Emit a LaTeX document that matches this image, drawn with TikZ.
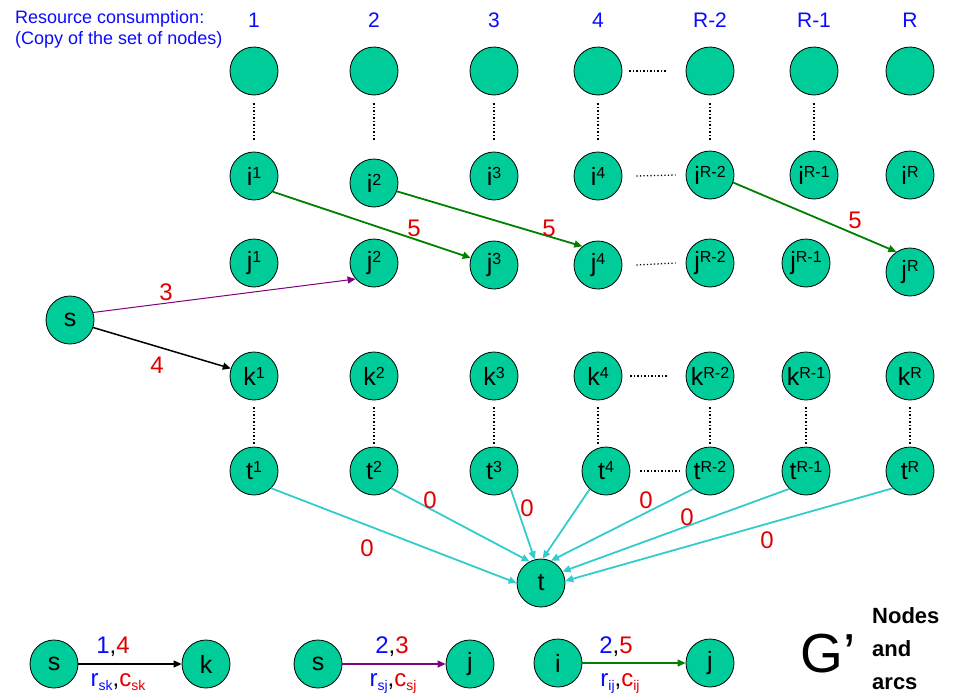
\documentclass[tikz,border=0pt]{standalone}
\usepackage{fontspec}
\setmainfont{Liberation Sans}
\usetikzlibrary{arrows.meta}
\definecolor{nodegreen}{RGB}{0,204,153}
\definecolor{arcgreen}{RGB}{0,128,0}
\definecolor{arcpurple}{RGB}{128,0,128}
\definecolor{arccyan}{RGB}{51,204,204}
\definecolor{labred}{RGB}{225,0,0}
\definecolor{labblue}{RGB}{10,10,255}
\newcommand\sups[1]{\raisebox{7pt}{\fontsize{16}{16}\selectfont #1}}
\newcommand\subs[1]{\raisebox{-4pt}{\fontsize{14}{14}\selectfont #1}}
\begin{document}
\begin{tikzpicture}[x=1pt,y=-1pt,
  nd/.style={circle,draw=black,line width=0.8pt,fill=nodegreen,minimum size=48pt,inner sep=0pt,font=\fontsize{25}{28}\selectfont},
  tipk/.style={-{Triangle[length=8pt,width=7pt]}},
  garc/.style={tipk,draw=arcgreen,line width=1.8pt},
  parc/.style={-{Triangle[length=8pt,width=7pt]},draw=arcpurple,line width=1pt},
  karc/.style={tipk,draw=black,line width=1.5pt},
  carc/.style={tipk,draw=arccyan,line width=1.8pt},
  dotline/.style={draw=black,line width=1.3pt,dash pattern=on 1.3pt off 2.2pt},
  lab/.style={text=labred,font=\fontsize{24}{24}\selectfont,inner sep=0pt},
  head/.style={text=labblue,font=\fontsize{21}{21}\selectfont,inner sep=0pt}]
\useasboundingbox (0,0) rectangle (965,696);

% headers
\node[head,anchor=north west,align=left,font=\fontsize{18}{21}\selectfont] (title) at (15,10) {Resource consumption:\\(Copy of the set of nodes)};
\node[head] (h1) at (254,20) {1};
\node[head] (h2) at (374,20) {2};
\node[head] (h3) at (494,20) {3};
\node[head] (h4) at (598,20) {4};
\node[head] (h5) at (710,20) {R-2};
\node[head] (h6) at (814,20) {R-1};
\node[head] (h7) at (910,20) {R};

% top row
\node[nd] (a1) at (254,71) {};
\node[nd] (a2) at (374,71) {};
\node[nd] (a3) at (494,71) {};
\node[nd] (a4) at (598,71) {};
\node[nd] (a5) at (710,71) {};
\node[nd] (a6) at (814,71) {};
\node[nd] (a7) at (910,71) {};

% i row
\node[nd] (i1) at (254,176) {i\sups{1}};
\node[nd] (i2) at (374,183) {i\sups{2}};
\node[nd] (i3) at (494,176) {i\sups{3}};
\node[nd] (i4) at (598,176) {i\sups{4}};
\node[nd] (i5) at (710,175) {i\sups{R-2}};
\node[nd] (i6) at (814,175) {i\sups{R-1}};
\node[nd] (i7) at (910,175) {i\sups{R}};

% j row
\node[nd] (j1) at (254,263) {j\sups{1}};
\node[nd] (j2) at (374,263) {j\sups{2}};
\node[nd] (j3) at (494,265) {j\sups{3}};
\node[nd] (j4) at (598,265) {j\sups{4}};
\node[nd] (j5) at (710,263) {j\sups{R-2}};
\node[nd] (j6) at (806,263) {j\sups{R-1}};
\node[nd] (j7) at (910,272) {j\sups{R}};

% s
\node[nd] (s) at (70,320) {s};

% k row
\node[nd] (k1) at (254,376) {k\sups{1}};
\node[nd] (k2) at (374,376) {k\sups{2}};
\node[nd] (k3) at (494,376) {k\sups{3}};
\node[nd] (k4) at (598,376) {k\sups{4}};
\node[nd] (k5) at (710,376) {k\sups{R-2}};
\node[nd] (k6) at (806,376) {k\sups{R-1}};
\node[nd] (k7) at (910,376) {k\sups{R}};

% t row
\node[nd] (t1) at (254,471) {t\sups{1}};
\node[nd] (t2) at (374,471) {t\sups{2}};
\node[nd] (t3) at (494,471) {t\sups{3}};
\node[nd] (t4) at (606,471) {t\sups{4}};
\node[nd] (t5) at (710,471) {t\sups{R-2}};
\node[nd] (t6) at (806,471) {t\sups{R-1}};
\node[nd] (t7) at (910,471) {t\sups{R}};

\node[nd] (t) at (541,583) {t};

% vertical dotted lines
\foreach \c in {1,...,6} {
  \draw[dotline] ([yshift=-8pt]a\c.south) -- ([yshift=-45pt]a\c.south);
}
\foreach \c in {1,...,7} {
  \draw[dotline] ([yshift=-7pt]k\c.south) -- ([yshift=2pt]k\c.south |- t\c.north);
}
% horizontal dotted lines
\draw[dotline] ([xshift=7pt]a4.east) -- ([xshift=-19pt]a5.west);
\draw[dotline] ([xshift=14pt]i4.east) -- ([xshift=-10pt]i5.west);
\draw[dotline] ([xshift=14pt]j4.east) -- ([xshift=-10pt]j5.west);
\draw[dotline] ([xshift=8pt]k4.east) -- ([xshift=-18pt]k5.west);
\draw[dotline] ([xshift=10pt]t4.east) -- ([xshift=-4pt]t5.west);

% arcs
\draw[garc] (i1.-40) -- (j3.163);
\draw[garc] (i2.-20) -- (j4.130);
\draw[garc] (i5.-18) -- (j7.124);
\draw[parc] (s.18) -- (j2.221);
\draw[karc] (s.-18) -- (k1.162);
\draw[carc] (t1.-45) -- (t.180);
\draw[carc] (t2.-45) -- (t.118);
\draw[carc] (t3.-47) -- (t.105);
\draw[carc] (t4.228) -- (t.86);
\draw[carc] (t5.227) -- (t.66);
\draw[carc] (t6.227) -- (t.28);
\draw[carc] (t7.225) -- (t.5);

% arc labels
\node[lab] (l1) at (414,228) {5};
\node[lab] (l2) at (549,228) {5};
\node[lab] (l3) at (855,220) {5};
\node[lab] (l4) at (166,292) {3};
\node[lab] (l5) at (157,365) {4};
\node[lab] (l6) at (367,548) {0};
\node[lab] (l7) at (430,500) {0};
\node[lab] (l8) at (527,508) {0};
\node[lab] (l9) at (646,500) {0};
\node[lab] (l10) at (687,517) {0};
\node[lab] (l11) at (767,540) {0};

% legend
\node[nd] (ls) at (54,664) {s};
\node[nd] (lk) at (206,664) {k};
\node[nd] (ls2) at (318,664) {s};
\node[nd] (lj) at (470,664) {j};
\node[nd] (li) at (558,663) {i};
\node[nd] (lj2) at (710,663) {j};
\draw[karc,line width=1.2pt] (ls) -- (lk);
\draw[parc,line width=1.2pt] (ls2) -- (lj);
\draw[garc,line width=1.2pt] (li) -- (lj2);
\node[inner sep=0pt,font=\fontsize{24}{24}\selectfont,anchor=base] (v1) at (113,653) {\textcolor{labblue}{1},\textcolor{labred}{4}};
\node[inner sep=0pt,font=\fontsize{24}{24}\selectfont,anchor=base] (v2) at (392,653) {\textcolor{labblue}{2},\textcolor{labred}{3}};
\node[inner sep=0pt,font=\fontsize{24}{24}\selectfont,anchor=base] (v3) at (616,653) {\textcolor{labblue}{2},\textcolor{labred}{5}};
\node[inner sep=0pt,font=\fontsize{24}{24}\selectfont,anchor=base] (n1) at (118,686) {\textcolor{labblue}{r\subs{sk}},\textcolor{labred}{c\subs{sk}}};
\node[inner sep=0pt,font=\fontsize{24}{24}\selectfont,anchor=base] (n2) at (393,686) {\textcolor{labblue}{r\subs{sj}},\textcolor{labred}{c\subs{sj}}};
\node[inner sep=0pt,font=\fontsize{24}{24}\selectfont,anchor=base] (n3) at (620,686) {\textcolor{labblue}{r\subs{ij}},\textcolor{labred}{c\subs{ij}}};

% G' title
\node[inner sep=0pt,anchor=base west,font=\fontsize{55}{55}\selectfont] (g) at (800,672) {G’};
\node[inner sep=0pt,anchor=base west,align=left,font=\bfseries\fontsize{22}{33}\selectfont] (na) at (872,689) {Nodes\\and\\arcs};
\end{tikzpicture}
\end{document}
